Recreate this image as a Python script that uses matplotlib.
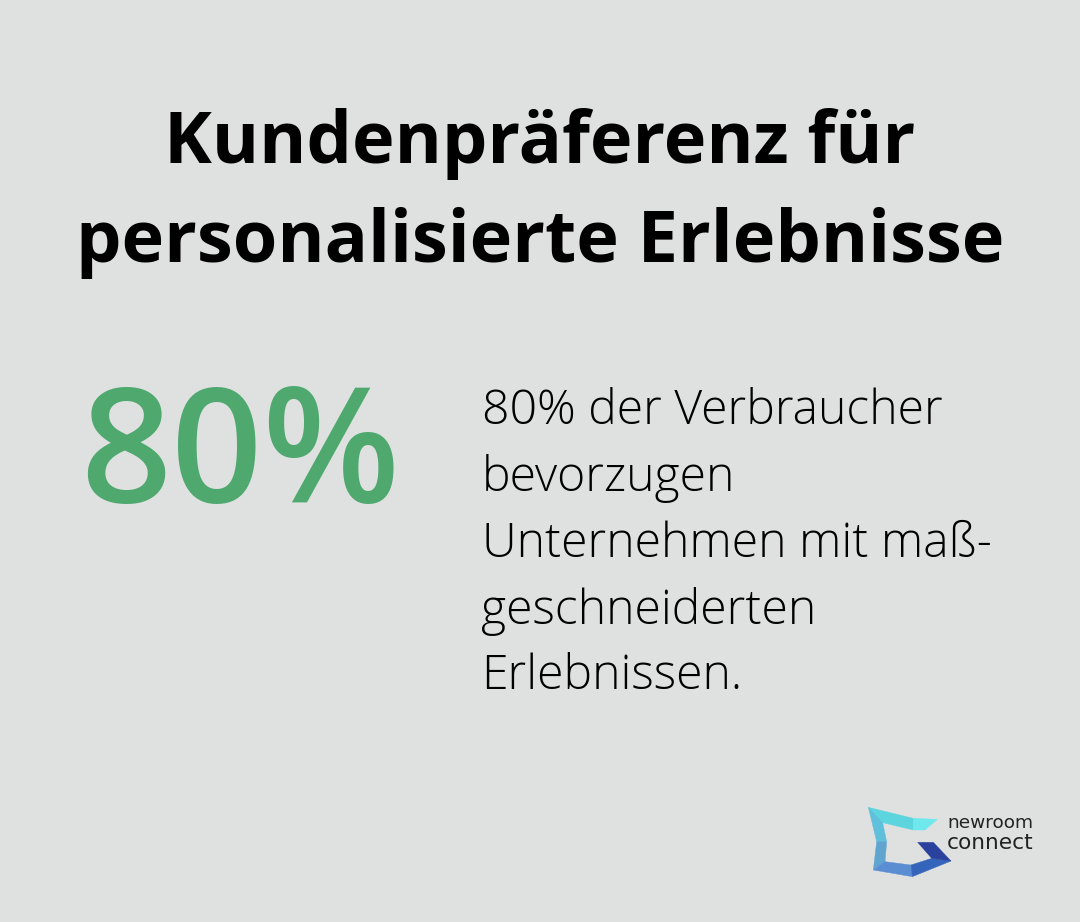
import matplotlib
matplotlib.use("Agg")
import matplotlib.pyplot as plt
from matplotlib.patches import Polygon

title_lines = ["Kundenpräferenz für", "personalisierte Erlebnisse"]
big_value = "80%"
body_lines = ["80% der Verbraucher", "bevorzugen", "Unternehmen mit maß-", "geschneiderten", "Erlebnissen."]
logo_lines = ["newroom", "connect"]

W, H = 1080, 922
fig = plt.figure(figsize=(W / 100, H / 100), dpi=100, facecolor="#dfe1e0")
ax = fig.add_axes([0, 0, 1, 1])
ax.set_xlim(0, W)
ax.set_ylim(H, 0)
ax.axis("off")

# title
for y, s in zip([144, 243], title_lines):
    ax.text(540, y, s, ha="center", va="center", family="Open Sans", weight="bold", fontsize=51.8, color="black")

ax.text(240.5, 460, big_value, ha="center", va="center", family="Open Sans", weight="semibold", fontsize=115, color="#4fa96f")

# body
for y, s in zip([412, 478, 545, 611, 677], body_lines):
    ax.text(481.5, y, s, ha="left", va="center", family="Open Sans", weight="light", fontsize=34.7, color="black")

# logo, points
def logo_piece(pts, col):
    pts = [(850 + x / 3, 790 + y / 3) for x, y in pts]
    ax.add_patch(Polygon(pts, facecolor=col, edgecolor=col, lw=0.3))

logo_piece([(55, 52), (190, 85), (190, 120), (98, 98)], "#5cd5de")
logo_piece([(190, 85), (262, 88), (225, 120), (190, 120)], "#6ee8ec")
logo_piece([(55, 52), (98, 98), (110, 155), (80, 155)], "#5fc0dc")
logo_piece([(80, 155), (110, 155), (105, 215), (70, 240)], "#5fa5d0")
logo_piece([(70, 240), (105, 215), (183, 225), (187, 260)], "#5b8dd3")
logo_piece([(187, 260), (183, 225), (245, 205), (303, 213)], "#3565ba")
logo_piece([(203, 157), (250, 157), (303, 213), (245, 205)], "#2a429e")

ax.text(947, 823, logo_lines[0], ha="left", va="center", family="DejaVu Sans", fontsize=13.3, color="#222222")
ax.text(947, 843, logo_lines[1], ha="left", va="center", family="DejaVu Sans", fontsize=15.6, color="#222222")

fig.savefig("out.png", dpi=100, facecolor=fig.get_facecolor())
